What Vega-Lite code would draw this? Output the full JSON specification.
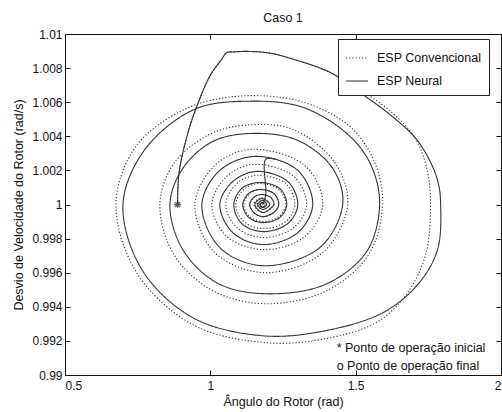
{
  "$schema": "https://vega.github.io/schema/vega-lite/v6.json",
  "autosize": {"type": "none"},
  "width": 436,
  "height": 341,
  "padding": {"left": 65, "top": 34, "right": 1, "bottom": 37},
  "background": "white",
  "config": {
    "font": "Liberation Sans",
    "view": {"stroke": "#111", "strokeWidth": 1},
    "axis": {"grid": false, "domain": false, "tickColor": "#111", "labelColor": "#111", "titleColor": "#111", "labelFontSize": 12, "titleFontSize": 12.5, "titleFontWeight": "normal"}
  },
  "title": {"text": "Caso 1", "fontSize": 12.5, "fontWeight": "normal", "color": "#111", "offset": 4},
  "datasets": {
    "traj": [
      {"s":"ESP Convencional","g":"c","i":0,"x":0.8873,"y":1.0},
      {"s":"ESP Convencional","g":"c","i":1,"x":0.8883,"y":1.00088},
      {"s":"ESP Convencional","g":"c","i":2,"x":0.8918,"y":1.00176},
      {"s":"ESP Convencional","g":"c","i":3,"x":0.9004,"y":1.00265},
      {"s":"ESP Convencional","g":"c","i":4,"x":0.9124,"y":1.00353},
      {"s":"ESP Convencional","g":"c","i":5,"x":0.9296,"y":1.00459},
      {"s":"ESP Convencional","g":"c","i":6,"x":0.9536,"y":1.00576},
      {"s":"ESP Convencional","g":"c","i":7,"x":0.9983,"y":1.00753},
      {"s":"ESP Convencional","g":"c","i":7.5,"x":1.0395,"y":1.00853},
      {"s":"ESP Convencional","g":"c","i":8,"x":1.0567,"y":1.00891},
      {"s":"ESP Convencional","g":"c","i":8.5,"x":1.0842,"y":1.00895},
      {"s":"ESP Convencional","g":"c","i":9,"x":1.1254,"y":1.00898},
      {"s":"ESP Convencional","g":"c","i":10,"x":1.2045,"y":1.00888},
      {"s":"ESP Convencional","g":"c","i":11,"x":1.2835,"y":1.00853},
      {"s":"ESP Convencional","g":"c","i":12,"x":1.4106,"y":1.00776},
      {"s":"ESP Convencional","g":"c","i":13,"x":1.5068,"y":1.00682},
      {"s":"ESP Convencional","g":"c","i":14,"x":1.6236,"y":1.00541},
      {"s":"ESP Convencional","g":"c","i":15,"x":1.7027,"y":1.00394},
      {"s":"ESP Convencional","g":"c","i":16,"x":1.7439,"y":1.00218},
      {"s":"ESP Convencional","g":"c","i":17,"x":1.7576,"y":1.0},
      {"s":"ESP Convencional","g":"c","i":18,"x":1.7405,"y":0.99706},
      {"s":"ESP Convencional","g":"c","i":19,"x":1.6786,"y":0.99483},
      {"s":"ESP Convencional","g":"c","i":20,"x":1.5755,"y":0.99312},
      {"s":"ESP Convencional","g":"c","i":21,"x":1.3934,"y":0.99212},
      {"s":"ESP Convencional","g":"c","i":22,"x":1.1976,"y":0.99189},
      {"s":"ESP Convencional","g":"c","i":23,"x":0.9468,"y":0.99289},
      {"s":"ESP Convencional","g":"c","i":24,"x":0.7509,"y":0.99588},
      {"s":"ESP Convencional","g":"c","i":25,"x":0.6753,"y":1.0},
      {"s":"ESP Convencional","g":"c","i":26,"x":0.744,"y":1.00341},
      {"s":"ESP Convencional","g":"c","i":27,"x":0.9124,"y":1.00559},
      {"s":"ESP Convencional","g":"c","i":28,"x":1.0945,"y":1.00635},
      {"s":"ESP Convencional","g":"c","i":29,"x":1.3075,"y":1.00606},
      {"s":"ESP Convencional","g":"c","i":30,"x":1.4793,"y":1.00459},
      {"s":"ESP Convencional","g":"c","i":31,"x":1.5652,"y":1.00247},
      {"s":"ESP Convencional","g":"c","i":32,"x":1.5927,"y":1.0},
      {"s":"ESP Convencional","g":"c","i":33,"x":1.5446,"y":0.99706},
      {"s":"ESP Convencional","g":"c","i":34,"x":1.4003,"y":0.99494},
      {"s":"ESP Convencional","g":"c","i":35,"x":1.1907,"y":0.99418},
      {"s":"ESP Convencional","g":"c","i":36,"x":1.0086,"y":0.99494},
      {"s":"ESP Convencional","g":"c","i":37,"x":0.8746,"y":0.99706},
      {"s":"ESP Convencional","g":"c","i":38,"x":0.8265,"y":1.0},
      {"s":"ESP Convencional","g":"c","i":39,"x":0.8746,"y":1.00241},
      {"s":"ESP Convencional","g":"c","i":40,"x":0.9983,"y":1.00412},
      {"s":"ESP Convencional","g":"c","i":41,"x":1.1186,"y":1.00465},
      {"s":"ESP Convencional","g":"c","i":42,"x":1.2835,"y":1.00441},
      {"s":"ESP Convencional","g":"c","i":43,"x":1.4278,"y":1.00247},
      {"s":"ESP Convencional","g":"c","i":44,"x":1.4725,"y":1.0},
      {"s":"ESP Convencional","g":"c","i":45,"x":1.3866,"y":0.99718},
      {"s":"ESP Convencional","g":"c","i":46,"x":1.1873,"y":0.996},
      {"s":"ESP Convencional","g":"c","i":47,"x":1.0155,"y":0.99718},
      {"s":"ESP Convencional","g":"c","i":48,"x":0.9468,"y":1.0},
      {"s":"ESP Convencional","g":"c","i":49,"x":1.0155,"y":1.00229},
      {"s":"ESP Convencional","g":"c","i":50,"x":1.1392,"y":1.00323},
      {"s":"ESP Convencional","g":"c","i":51,"x":1.3247,"y":1.00229},
      {"s":"ESP Convencional","g":"c","i":52,"x":1.3866,"y":1.0},
      {"s":"ESP Convencional","g":"c","i":53,"x":1.3247,"y":0.99812},
      {"s":"ESP Convencional","g":"c","i":54,"x":1.1873,"y":0.99735},
      {"s":"ESP Convencional","g":"c","i":55,"x":1.0567,"y":0.99812},
      {"s":"ESP Convencional","g":"c","i":56,"x":1.0052,"y":1.0},
      {"s":"ESP Convencional","g":"c","i":57,"x":1.0567,"y":1.00165},
      {"s":"ESP Convencional","g":"c","i":58,"x":1.1495,"y":1.00235},
      {"s":"ESP Convencional","g":"c","i":59,"x":1.2869,"y":1.00165},
      {"s":"ESP Convencional","g":"c","i":60,"x":1.3316,"y":1.0},
      {"s":"ESP Convencional","g":"c","i":61,"x":1.2869,"y":0.99865},
      {"s":"ESP Convencional","g":"c","i":62,"x":1.1838,"y":0.99806},
      {"s":"ESP Convencional","g":"c","i":63,"x":1.0911,"y":0.99865},
      {"s":"ESP Convencional","g":"c","i":64,"x":1.0533,"y":1.0},
      {"s":"ESP Convencional","g":"c","i":65,"x":1.0911,"y":1.00123},
      {"s":"ESP Convencional","g":"c","i":66,"x":1.1598,"y":1.00171},
      {"s":"ESP Convencional","g":"c","i":67,"x":1.2594,"y":1.00123},
      {"s":"ESP Convencional","g":"c","i":68,"x":1.2904,"y":1.0},
      {"s":"ESP Convencional","g":"c","i":69,"x":1.2594,"y":0.999},
      {"s":"ESP Convencional","g":"c","i":70,"x":1.1838,"y":0.99859},
      {"s":"ESP Convencional","g":"c","i":71,"x":1.1151,"y":0.999},
      {"s":"ESP Convencional","g":"c","i":72,"x":1.0876,"y":1.0},
      {"s":"ESP Convencional","g":"c","i":73,"x":1.1151,"y":1.00088},
      {"s":"ESP Convencional","g":"c","i":74,"x":1.1667,"y":1.00123},
      {"s":"ESP Convencional","g":"c","i":75,"x":1.2354,"y":1.00088},
      {"s":"ESP Convencional","g":"c","i":76,"x":1.2594,"y":1.0},
      {"s":"ESP Convencional","g":"c","i":77,"x":1.2354,"y":0.99929},
      {"s":"ESP Convencional","g":"c","i":78,"x":1.1838,"y":0.999},
      {"s":"ESP Convencional","g":"c","i":79,"x":1.1357,"y":0.99929},
      {"s":"ESP Convencional","g":"c","i":80,"x":1.1151,"y":1.0},
      {"s":"ESP Convencional","g":"c","i":81,"x":1.1357,"y":1.00065},
      {"s":"ESP Convencional","g":"c","i":82,"x":1.1701,"y":1.00088},
      {"s":"ESP Convencional","g":"c","i":83,"x":1.2182,"y":1.00065},
      {"s":"ESP Convencional","g":"c","i":84,"x":1.2354,"y":1.0},
      {"s":"ESP Convencional","g":"c","i":85,"x":1.2182,"y":0.99953},
      {"s":"ESP Convencional","g":"c","i":86,"x":1.1804,"y":0.99929},
      {"s":"ESP Convencional","g":"c","i":87,"x":1.1495,"y":0.99953},
      {"s":"ESP Convencional","g":"c","i":88,"x":1.1357,"y":1.0},
      {"s":"ESP Convencional","g":"c","i":89,"x":1.1495,"y":1.00041},
      {"s":"ESP Convencional","g":"c","i":90,"x":1.1735,"y":1.00059},
      {"s":"ESP Convencional","g":"c","i":91,"x":1.2079,"y":1.00041},
      {"s":"ESP Convencional","g":"c","i":92,"x":1.2182,"y":1.0},
      {"s":"ESP Convencional","g":"c","i":93,"x":1.1804,"y":0.99953},
      {"s":"ESP Convencional","g":"c","i":94,"x":1.1495,"y":1.0},
      {"s":"ESP Convencional","g":"c","i":95,"x":1.177,"y":1.00041},
      {"s":"ESP Convencional","g":"c","i":96,"x":1.2045,"y":1.0},
      {"s":"ESP Convencional","g":"c","i":97,"x":1.1804,"y":0.99971},
      {"s":"ESP Convencional","g":"c","i":98,"x":1.1598,"y":1.0},
      {"s":"ESP Convencional","g":"c","i":99,"x":1.1804,"y":1.00024},
      {"s":"ESP Convencional","g":"c","i":100,"x":1.1941,"y":1.0},
      {"s":"ESP Convencional","g":"c","i":101,"x":1.1804,"y":0.99982},
      {"s":"ESP Convencional","g":"c","i":102,"x":1.1701,"y":1.0},
      {"s":"ESP Convencional","g":"c","i":103,"x":1.1804,"y":1.00012},
      {"s":"ESP Convencional","g":"c","i":104,"x":1.1804,"y":1.0},

      {"s":"ESP Neural","g":"n","i":0,"x":0.8873,"y":1.0},
      {"s":"ESP Neural","g":"n","i":1,"x":0.8883,"y":1.00088},
      {"s":"ESP Neural","g":"n","i":2,"x":0.8918,"y":1.00176},
      {"s":"ESP Neural","g":"n","i":3,"x":0.9004,"y":1.00265},
      {"s":"ESP Neural","g":"n","i":4,"x":0.9124,"y":1.00353},
      {"s":"ESP Neural","g":"n","i":5,"x":0.9296,"y":1.00459},
      {"s":"ESP Neural","g":"n","i":6,"x":0.9536,"y":1.00576},
      {"s":"ESP Neural","g":"n","i":7,"x":0.9983,"y":1.00753},
      {"s":"ESP Neural","g":"n","i":7.5,"x":1.0395,"y":1.00853},
      {"s":"ESP Neural","g":"n","i":8,"x":1.0567,"y":1.00891},
      {"s":"ESP Neural","g":"n","i":8.5,"x":1.0842,"y":1.00895},
      {"s":"ESP Neural","g":"n","i":9,"x":1.1254,"y":1.00898},
      {"s":"ESP Neural","g":"n","i":10,"x":1.2045,"y":1.00888},
      {"s":"ESP Neural","g":"n","i":11,"x":1.2835,"y":1.00853},
      {"s":"ESP Neural","g":"n","i":12,"x":1.4106,"y":1.00776},
      {"s":"ESP Neural","g":"n","i":13,"x":1.5034,"y":1.0067},
      {"s":"ESP Neural","g":"n","i":14,"x":1.6168,"y":1.00529},
      {"s":"ESP Neural","g":"n","i":15,"x":1.7095,"y":1.00382},
      {"s":"ESP Neural","g":"n","i":16,"x":1.7645,"y":1.00223},
      {"s":"ESP Neural","g":"n","i":17,"x":1.7851,"y":1.00118},
      {"s":"ESP Neural","g":"n","i":18,"x":1.792,"y":1.00018},
      {"s":"ESP Neural","g":"n","i":19,"x":1.7817,"y":0.99735},
      {"s":"ESP Neural","g":"n","i":20,"x":1.713,"y":0.9953},
      {"s":"ESP Neural","g":"n","i":21,"x":1.5927,"y":0.99365},
      {"s":"ESP Neural","g":"n","i":22,"x":1.3934,"y":0.99259},
      {"s":"ESP Neural","g":"n","i":23,"x":1.1804,"y":0.9923},
      {"s":"ESP Neural","g":"n","i":24,"x":0.9399,"y":0.99336},
      {"s":"ESP Neural","g":"n","i":25,"x":0.7646,"y":0.99618},
      {"s":"ESP Neural","g":"n","i":26,"x":0.6994,"y":1.0},
      {"s":"ESP Neural","g":"n","i":27,"x":0.775,"y":1.00323},
      {"s":"ESP Neural","g":"n","i":28,"x":0.9468,"y":1.00559},
      {"s":"ESP Neural","g":"n","i":29,"x":1.1357,"y":1.00606},
      {"s":"ESP Neural","g":"n","i":30,"x":1.3178,"y":1.0057},
      {"s":"ESP Neural","g":"n","i":31,"x":1.4725,"y":1.00412},
      {"s":"ESP Neural","g":"n","i":32,"x":1.5515,"y":1.00235},
      {"s":"ESP Neural","g":"n","i":33,"x":1.5824,"y":1.0},
      {"s":"ESP Neural","g":"n","i":34,"x":1.5377,"y":0.99724},
      {"s":"ESP Neural","g":"n","i":35,"x":1.3934,"y":0.9953},
      {"s":"ESP Neural","g":"n","i":36,"x":1.1804,"y":0.99477},
      {"s":"ESP Neural","g":"n","i":37,"x":1.0223,"y":0.99541},
      {"s":"ESP Neural","g":"n","i":38,"x":0.9055,"y":0.99735},
      {"s":"ESP Neural","g":"n","i":39,"x":0.8609,"y":1.0},
      {"s":"ESP Neural","g":"n","i":40,"x":0.9055,"y":1.00212},
      {"s":"ESP Neural","g":"n","i":41,"x":1.0086,"y":1.0037},
      {"s":"ESP Neural","g":"n","i":42,"x":1.146,"y":1.00417},
      {"s":"ESP Neural","g":"n","i":43,"x":1.3007,"y":1.00376},
      {"s":"ESP Neural","g":"n","i":44,"x":1.4209,"y":1.00212},
      {"s":"ESP Neural","g":"n","i":45,"x":1.4553,"y":1.0},
      {"s":"ESP Neural","g":"n","i":46,"x":1.3763,"y":0.99747},
      {"s":"ESP Neural","g":"n","i":47,"x":1.1804,"y":0.99641},
      {"s":"ESP Neural","g":"n","i":48,"x":1.0327,"y":0.99747},
      {"s":"ESP Neural","g":"n","i":49,"x":0.9708,"y":1.0},
      {"s":"ESP Neural","g":"n","i":50,"x":1.0327,"y":1.002},
      {"s":"ESP Neural","g":"n","i":51,"x":1.1529,"y":1.00282},
      {"s":"ESP Neural","g":"n","i":52,"x":1.3007,"y":1.002},
      {"s":"ESP Neural","g":"n","i":53,"x":1.3522,"y":1.0},
      {"s":"ESP Neural","g":"n","i":54,"x":1.3007,"y":0.99835},
      {"s":"ESP Neural","g":"n","i":55,"x":1.1804,"y":0.99765},
      {"s":"ESP Neural","g":"n","i":56,"x":1.0773,"y":0.99835},
      {"s":"ESP Neural","g":"n","i":57,"x":1.0327,"y":1.0},
      {"s":"ESP Neural","g":"n","i":58,"x":1.0773,"y":1.00135},
      {"s":"ESP Neural","g":"n","i":59,"x":1.1598,"y":1.00194},
      {"s":"ESP Neural","g":"n","i":60,"x":1.2663,"y":1.00135},
      {"s":"ESP Neural","g":"n","i":61,"x":1.3007,"y":1.0},
      {"s":"ESP Neural","g":"n","i":62,"x":1.2663,"y":0.99888},
      {"s":"ESP Neural","g":"n","i":63,"x":1.1804,"y":0.99841},
      {"s":"ESP Neural","g":"n","i":64,"x":1.1082,"y":0.99888},
      {"s":"ESP Neural","g":"n","i":65,"x":1.0808,"y":1.0},
      {"s":"ESP Neural","g":"n","i":66,"x":1.1082,"y":1.00094},
      {"s":"ESP Neural","g":"n","i":67,"x":1.1667,"y":1.00129},
      {"s":"ESP Neural","g":"n","i":68,"x":1.2388,"y":1.00094},
      {"s":"ESP Neural","g":"n","i":69,"x":1.2629,"y":1.0},
      {"s":"ESP Neural","g":"n","i":70,"x":1.2388,"y":0.99924},
      {"s":"ESP Neural","g":"n","i":71,"x":1.1804,"y":0.99894},
      {"s":"ESP Neural","g":"n","i":72,"x":1.1323,"y":0.99924},
      {"s":"ESP Neural","g":"n","i":73,"x":1.1117,"y":1.0},
      {"s":"ESP Neural","g":"n","i":74,"x":1.1323,"y":1.00065},
      {"s":"ESP Neural","g":"n","i":75,"x":1.1701,"y":1.00088},
      {"s":"ESP Neural","g":"n","i":76,"x":1.2182,"y":1.00065},
      {"s":"ESP Neural","g":"n","i":77,"x":1.2354,"y":1.0},
      {"s":"ESP Neural","g":"n","i":78,"x":1.2182,"y":0.99953},
      {"s":"ESP Neural","g":"n","i":79,"x":1.1804,"y":0.99929},
      {"s":"ESP Neural","g":"n","i":80,"x":1.1495,"y":0.99953},
      {"s":"ESP Neural","g":"n","i":81,"x":1.1357,"y":1.0},
      {"s":"ESP Neural","g":"n","i":82,"x":1.1495,"y":1.00041},
      {"s":"ESP Neural","g":"n","i":83,"x":1.1735,"y":1.00059},
      {"s":"ESP Neural","g":"n","i":84,"x":1.2079,"y":1.00041},
      {"s":"ESP Neural","g":"n","i":85,"x":1.2182,"y":1.0},
      {"s":"ESP Neural","g":"n","i":86,"x":1.1804,"y":0.99953},
      {"s":"ESP Neural","g":"n","i":87,"x":1.1529,"y":1.0},
      {"s":"ESP Neural","g":"n","i":88,"x":1.177,"y":1.00035},
      {"s":"ESP Neural","g":"n","i":89,"x":1.2045,"y":1.0},
      {"s":"ESP Neural","g":"n","i":90,"x":1.1804,"y":0.99971},
      {"s":"ESP Neural","g":"n","i":91,"x":1.1632,"y":1.0},
      {"s":"ESP Neural","g":"n","i":92,"x":1.1804,"y":1.00024},
      {"s":"ESP Neural","g":"n","i":93,"x":1.1941,"y":1.0},
      {"s":"ESP Neural","g":"n","i":94,"x":1.1804,"y":0.99982},
      {"s":"ESP Neural","g":"n","i":95,"x":1.1701,"y":1.0},
      {"s":"ESP Neural","g":"n","i":96,"x":1.1804,"y":1.00012},
      {"s":"ESP Neural","g":"n","i":97,"x":1.1804,"y":1.0},

      {"s":"ESP Neural","g":"k","i":0,"x":1.1804,"y":1.0},
      {"s":"ESP Neural","g":"k","i":1,"x":1.1907,"y":1.00059},
      {"s":"ESP Neural","g":"k","i":2,"x":1.1907,"y":1.00265},
      {"s":"ESP Neural","g":"k","i":3,"x":1.2251,"y":1.00265}
    ],
    "marks": [
      {"k": "inicial", "x": 0.8873, "y": 1.0},
      {"k": "final", "x": 1.1804, "y": 1.0}
    ],
    "notes": [
      {"t": "* Ponto de operação inicial", "x": 1.4347, "y": 0.99161},
      {"t": "o Ponto de operação final", "x": 1.4347, "y": 0.99051}
    ]
  },
  "layer": [
    {
      "data": {"name": "traj"},
      "mark": {"type": "line", "interpolate": "catmull-rom", "color": "#333", "strokeWidth": 1.1},
      "encoding": {
        "x": {"field": "x", "type": "quantitative",
              "scale": {"domain": [0.5, 2], "nice": false, "zero": false},
              "axis": {"orient": "bottom", "values": [0.5, 1, 1.5, 2], "labelExpr": "toString(datum.value)", "tickSize": -5, "labelPadding": 10, "titlePadding": 4, "title": "Ângulo do Rotor (rad)"}},
        "y": {"field": "y", "type": "quantitative",
              "scale": {"domain": [0.99, 1.01], "nice": false, "zero": false},
              "axis": {"orient": "left", "values": [0.99, 0.992, 0.994, 0.996, 0.998, 1, 1.002, 1.004, 1.006, 1.008, 1.01], "labelExpr": "toString(datum.value)", "tickSize": -5, "labelPadding": 8, "titlePadding": 6, "title": "Desvio de Velocidade do Rotor (rad/s)"}},
        "strokeDash": {"field": "s", "type": "nominal",
              "scale": {"domain": ["ESP Convencional", "ESP Neural"], "range": [[1.2, 2], [1, 0]]},
              "legend": {"orient": "none", "legendX": 273, "legendY": 5, "title": null, "symbolType": "stroke", "symbolSize": 484, "symbolStrokeWidth": 1.2, "symbolStrokeColor": "#333", "labelFontSize": 12.5, "labelColor": "#111", "labelOffset": 8, "rowPadding": 4, "padding": 7, "strokeColor": "#222", "fillColor": "white"}},
        "detail": {"field": "g"},
        "order": {"field": "i", "type": "quantitative"}
      }
    },
    {
      "data": {"name": "marks"},
      "transform": [{"filter": "datum.k == 'inicial'"}],
      "mark": {"type": "point", "shape": "M-1,0L1,0M0,-1L0,1M-0.7,-0.7L0.7,0.7M-0.7,0.7L0.7,-0.7", "size": 50, "filled": false, "color": "#222", "strokeWidth": 1.3},
      "encoding": {
        "x": {"field": "x", "type": "quantitative", "axis": {"orient": "top", "values": [0.5, 1, 1.5, 2], "labels": false, "title": null, "tickSize": -5}},
        "y": {"field": "y", "type": "quantitative", "axis": {"orient": "right", "values": [0.99, 0.992, 0.994, 0.996, 0.998, 1, 1.002, 1.004, 1.006, 1.008, 1.01], "labels": false, "title": null, "tickSize": -5}}
      }
    },
    {
      "data": {"name": "marks"},
      "transform": [{"filter": "datum.k == 'final'"}],
      "mark": {"type": "point", "shape": "circle", "size": 20, "filled": false, "color": "#222", "strokeWidth": 1},
      "encoding": {
        "x": {"field": "x", "type": "quantitative", "axis": null},
        "y": {"field": "y", "type": "quantitative", "axis": null}
      }
    },
    {
      "data": {"name": "notes"},
      "mark": {"type": "text", "align": "left", "baseline": "middle", "fontSize": 12.5, "color": "#111"},
      "encoding": {
        "x": {"field": "x", "type": "quantitative", "axis": null},
        "y": {"field": "y", "type": "quantitative", "axis": null},
        "text": {"field": "t"}
      }
    }
  ],
  "resolve": {"axis": {"x": "independent", "y": "independent"}}
}
